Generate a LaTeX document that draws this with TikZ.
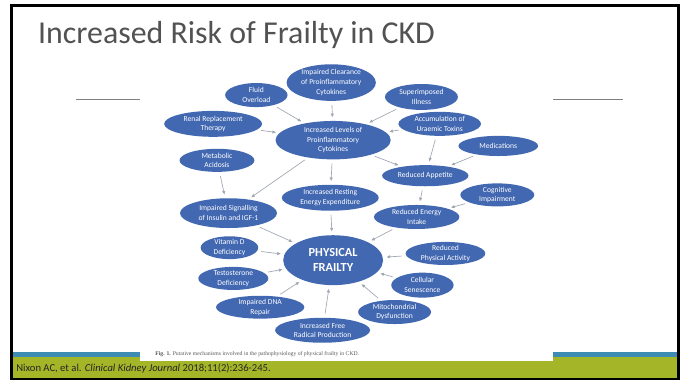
\documentclass[tikz,border=0pt]{standalone}
\usepackage{fontspec}
\setmainfont{Carlito}
\newfontfamily\capfont{Liberation Serif}
\usepackage{tikz}
\usetikzlibrary{shapes.geometric,arrows.meta}
\definecolor{FigBlue}{RGB}{66,104,178}
\definecolor{LinkGray}{RGB}{160,166,178}
\definecolor{BarBlue}{RGB}{62,139,180}
\definecolor{BarGreen}{RGB}{165,181,40}
\definecolor{RuleGray}{RGB}{128,128,128}
\tikzset{>={Latex[width=0.9mm,length=1mm]}}
\tikzset{
  cause/.style={shape=ellipse,fill=FigBlue,text=white,inner sep=0pt,align=center,font=\fontsize{5.7}{7.3}\selectfont},
  link/.style={->,draw=LinkGray,line width=0.5pt,shorten <=3pt,shorten >=2.5pt}
}

\begin{document}
\begin{tikzpicture}

\useasboundingbox (0in,0in) rectangle (7.135in,-3.969in);

\fill[BarBlue] (0.135in,-3.667in) rectangle (7.052in,-3.719in);
\fill[BarGreen] (0.135in,-3.719in) rectangle (7.052in,-3.9375in);
\draw[RuleGray,line width=0.7pt] (0.79in,-1.04in) -- (6.49in,-1.04in);
\fill[white] (1.458in,-0.60in) rectangle (5.76in,-3.76in);
\draw[line width=2.2pt] (0.12in,-0.057in) rectangle (7.063in,-3.948in);

\path (0.395in,-0.45in) node (title) [anchor=base west,inner sep=0pt,text=black!68,font=\fontsize{24}{28}\selectfont]{Increased Risk of Frailty in CKD};

\path (0.167in,-3.865in) node (ref) [anchor=base west,inner sep=0pt,text=black!85,font=\fontsize{8}{10}\selectfont]{Nixon AC, et al. \textit{Clinical Kidney Journal} 2018;11(2):236-245.};

\path (1.615in,-3.698in) node (caption) [anchor=base west,inner sep=0pt,text=black!65,font=\capfont\fontsize{4.3}{5}\selectfont]{\textbf{Fig. 1.} Putative mechanisms involved in the pathophysiology of physical frailty in CKD.};

\path (3.45in,-0.86in) node (clearance) [cause,minimum width=0.93in,minimum height=0.38in]{Impaired Clearance\\of Proinflammatory\\Cytokines};

\path (2.67in,-0.99in) node (fluid) [cause,minimum width=0.65in,minimum height=0.25in]{Fluid\\Overload};

\path (4.39in,-1.01in) node (illness) [cause,minimum width=0.76in,minimum height=0.27in]{Superimposed\\Illness};

\path (2.22in,-1.29in) node (renal) [cause,minimum width=1.02in,minimum height=0.27in]{Renal Replacement\\Therapy};

\path (3.47in,-1.46in) node (cytokines) [cause,minimum width=1.20in,minimum height=0.40in]{Increased Levels of\\Proinflammatory\\Cytokines};

\path (4.58in,-1.29in) node (toxins) [cause,minimum width=0.86in,minimum height=0.25in]{Accumulation of\\Uraemic Toxins};

\path (5.19in,-1.52in) node (meds) [cause,minimum width=0.83in,minimum height=0.21in]{Medications};

\path (2.26in,-1.67in) node (acidosis) [cause,minimum width=0.78in,minimum height=0.24in]{Metabolic\\Acidosis};

\path (4.43in,-1.83in) node (appetite) [cause,minimum width=0.90in,minimum height=0.22in]{Reduced Appetite};

\path (3.44in,-2.06in) node (resting) [cause,minimum width=1.01in,minimum height=0.27in]{Increased Resting\\Energy Expenditure};

\path (5.18in,-2.03in) node (cognitive) [cause,minimum width=0.77in,minimum height=0.24in]{Cognitive\\Impairment};

\path (2.38in,-2.22in) node (insulin) [cause,minimum width=1.01in,minimum height=0.31in]{Impaired Signalling\\of Insulin and IGF-1};

\path (4.34in,-2.26in) node (intake) [cause,minimum width=0.89in,minimum height=0.25in]{Reduced Energy\\Intake};

\path (3.47in,-2.71in) node (frailty) [cause,minimum width=1.04in,minimum height=0.52in,font=\fontsize{9.3}{11.3}\selectfont\bfseries]{PHYSICAL\\FRAILTY};

\path (2.39in,-2.58in) node (vitd) [cause,minimum width=0.60in,minimum height=0.23in]{Vitamin D\\Deficiency};

\path (4.64in,-2.64in) node (activity) [cause,minimum width=0.83in,minimum height=0.24in]{Reduced\\Physical Activity};

\path (2.43in,-2.90in) node (testo) [cause,minimum width=0.73in,minimum height=0.24in]{Testosterone\\Deficiency};

\path (4.40in,-2.97in) node (senescence) [cause,minimum width=0.65in,minimum height=0.26in]{Cellular\\Senescence};

\path (2.71in,-3.20in) node (dna) [cause,minimum width=0.92in,minimum height=0.23in]{Impaired DNA\\Repair};

\path (4.11in,-3.25in) node (mito) [cause,minimum width=0.76in,minimum height=0.25in]{Mitochondrial\\Dysfunction};

\path (3.36in,-3.44in) node (radical) [cause,minimum width=0.99in,minimum height=0.26in]{Increased Free\\Radical Production};

\draw[link] (clearance) -- (cytokines);
\draw[link] (fluid) -- (cytokines);
\draw[link] (illness) -- (cytokines);
\draw[link] (renal) -- (cytokines);
\draw[link] (toxins) -- (cytokines);
\draw[link] (cytokines) -- (appetite);
\draw[link] (toxins) -- (appetite);
\draw[link] (meds) -- (appetite);
\draw[link] (cytokines) -- (resting);
\draw[link] (cytokines) -- (insulin);
\draw[link] (acidosis) -- (insulin);
\draw[link] (appetite) -- (intake);
\draw[link] (cognitive) -- (intake);
\draw[link] (resting) -- (frailty);
\draw[link] (insulin) -- (frailty);
\draw[link] (intake) -- (frailty);
\draw[link] (vitd) -- (frailty);
\draw[link] (activity) -- (frailty);
\draw[link] (testo) -- (frailty);
\draw[link] (senescence) -- (frailty);
\draw[link] (dna) -- (frailty);
\draw[link] (mito) -- (frailty);
\draw[link] (radical) -- (frailty);

\end{tikzpicture}
\end{document}
